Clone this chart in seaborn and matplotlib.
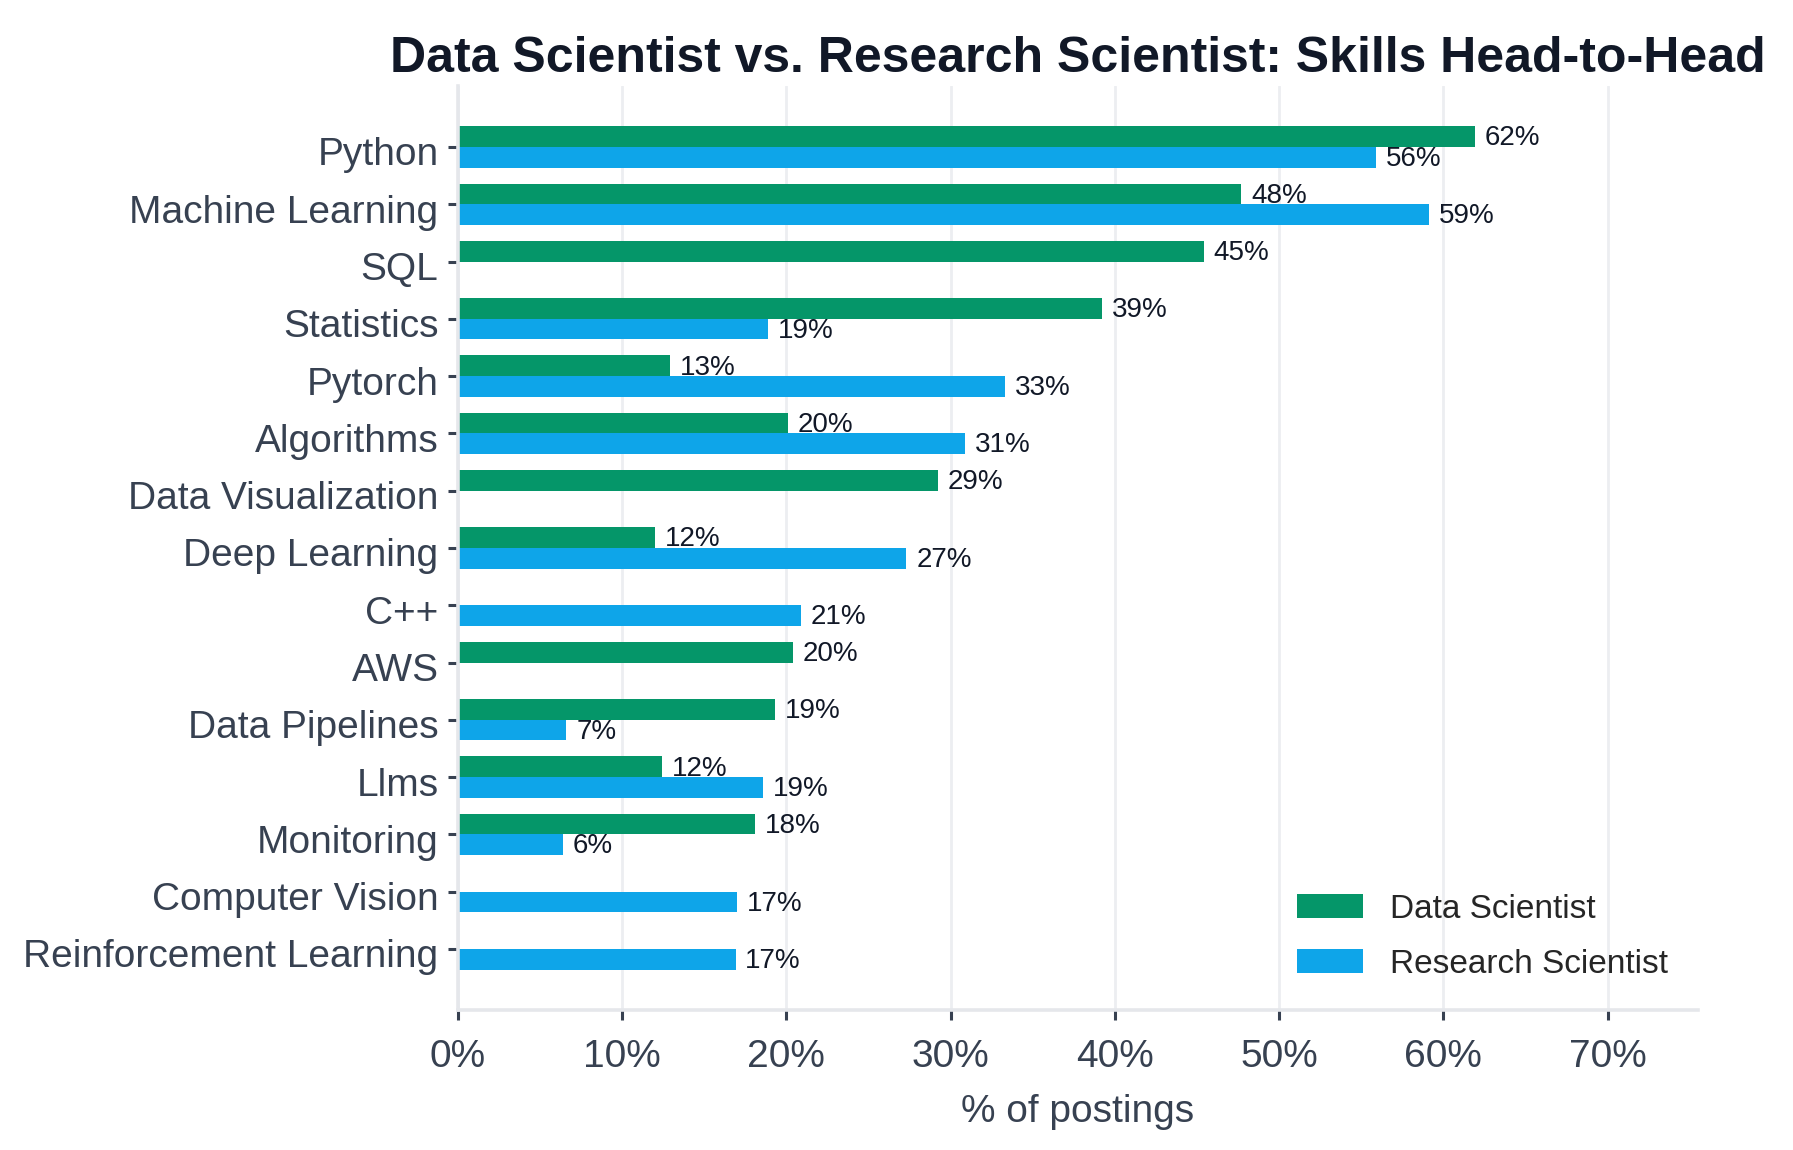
import pandas as pd
import matplotlib.pyplot as plt
import seaborn as sns
from matplotlib.ticker import FuncFormatter
from matplotlib.transforms import ScaledTranslation

# skill shares (% of postings)
skills = ['Python', 'Machine Learning', 'SQL', 'Statistics', 'Pytorch', 'Algorithms',
          'Data Visualization', 'Deep Learning', 'C++', 'AWS', 'Data Pipelines',
          'Llms', 'Monitoring', 'Computer Vision', 'Reinforcement Learning']
data_scientist = [61.9, 47.7, 45.4, 39.2, 12.9, 20.1, 29.2, 12.0, 0, 20.4, 19.3, 12.4, 18.1, 0, 0]
research_scientist = [55.9, 59.1, 0, 18.9, 33.3, 30.9, 0, 27.3, 20.9, 0, 6.6, 18.6, 6.4, 17.0, 16.9]
roles = ['Data Scientist', 'Research Scientist']
colors = ['#059669', '#0ea5e9']

df = pd.DataFrame({
    'skill': skills * 2,
    'role': [roles[0]] * len(skills) + [roles[1]] * len(skills),
    'pct': data_scientist + research_scientist,
})

sns.set_style('white')
plt.rcParams['font.family'] = ['Liberation Sans', 'DejaVu Sans']

text_col = '#374151'
fig, ax = plt.subplots(figsize=(8.965, 5.75), dpi=200)
fig.subplots_adjust(left=0.2554, right=0.947, top=0.925, bottom=0.122)

sns.barplot(data=df, y='skill', x='pct', hue='role', hue_order=roles,
            palette=colors, orient='h', width=0.72, saturation=1,
            errorbar=None, linewidth=0, ax=ax)

# value labels
for cont in ax.containers:
    for bar in cont:
        w = bar.get_width()
        if w > 0:
            ax.text(w + 0.6, bar.get_y() + bar.get_height() / 2 + 0.03, f'{w:.0f}%',
                    va='center', ha='left', fontsize=10, color='#111827')

ax.set_xlim(0, 75.5)
ax.set_ylim(len(skills) - 1 + 1.06, -1.06)
ax.set_xticks(range(0, 71, 10))
ax.xaxis.set_major_formatter(FuncFormatter(lambda v, p: f'{v:.0f}%'))
ax.xaxis.grid(True, color='#eceef1', lw=1)
ax.set_axisbelow(True)

ax.tick_params(axis='both', labelsize=14, colors=text_col, length=3.5, width=1.1, left=True, bottom=True)
ax.tick_params(axis='x', pad=7)
ax.set_ylabel('')
ax.set_xlabel('% of postings', fontsize=14, color=text_col, labelpad=7)

# nudge category labels down a touch, like the reference
shift = ScaledTranslation(0, -1.6 / 72, fig.dpi_scale_trans)
for lbl in ax.get_yticklabels():
    lbl.set_transform(lbl.get_transform() + shift)

sns.despine(ax=ax)
for s in ['left', 'bottom']:
    ax.spines[s].set_color('#e5e7eb')
    ax.spines[s].set_linewidth(1.3)

ax.set_title('Data Scientist vs. Research Scientist: Skills Head-to-Head',
             fontsize=18, fontweight='bold', color='#111827', pad=5)
ax.legend(title=None, frameon=False, loc='lower right', fontsize=12, labelspacing=0.72)

plt.savefig('out.png', dpi=200)
